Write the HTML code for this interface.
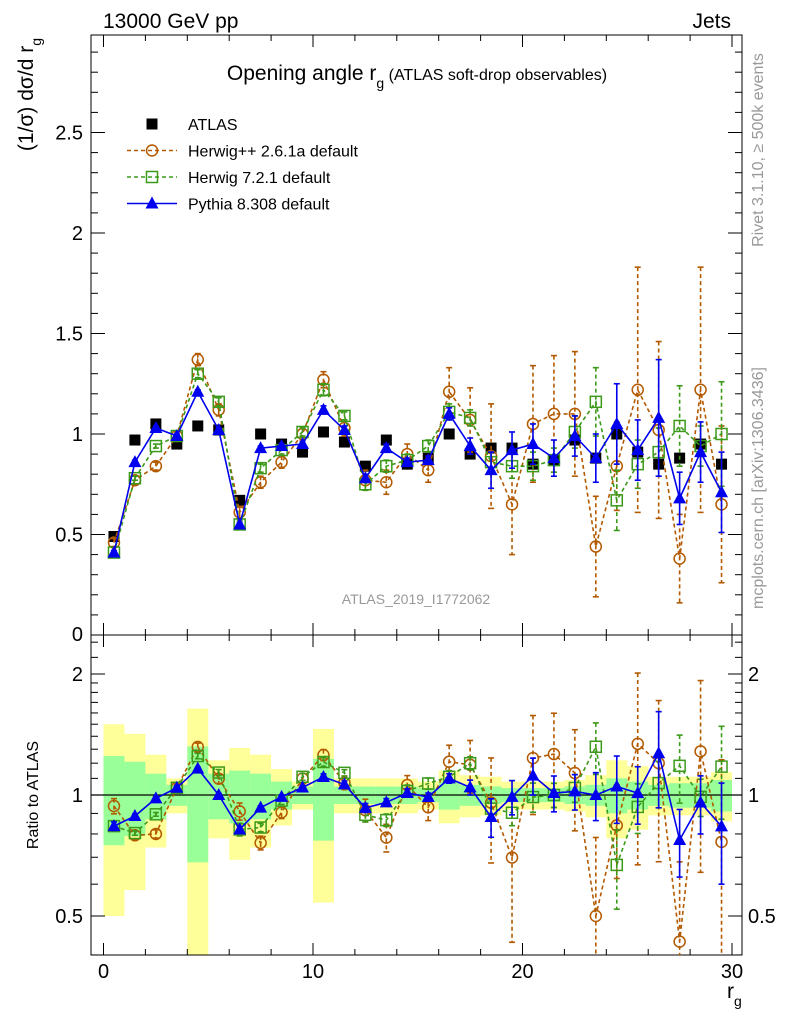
<!DOCTYPE html>
<html><head><meta charset="utf-8"><style>
html,body{margin:0;background:#fff;overflow:hidden;width:786px;height:1024px;}
svg{display:block;font-family:"Liberation Sans",sans-serif;}
</style></head><body>
<svg id="c" width="786" height="1024" viewBox="0 0 786 1024"></svg>
<script>
const bins=[0.5,1.5,2.5,3.5,4.5,5.5,6.5,7.5,8.5,9.5,10.5,11.5,12.5,13.5,14.5,15.5,16.5,17.5,18.5,19.5,20.5,21.5,22.5,23.5,24.5,25.5,26.5,27.5,28.5,29.5];
const atlas=[0.49,0.97,1.05,0.95,1.04,1.02,0.67,1.00,0.95,0.91,1.01,0.96,0.84,0.97,0.85,0.88,1.00,0.90,0.93,0.93,0.85,0.87,0.97,0.88,1.00,0.91,0.85,0.88,0.95,0.85];
const herwigpp=[0.46,0.77,0.84,0.99,1.37,1.12,0.61,0.76,0.86,1.00,1.27,1.03,0.77,0.76,0.90,0.82,1.21,1.07,0.89,0.65,1.05,1.10,1.10,0.44,0.84,1.22,1.02,0.38,1.22,0.65];
const herwigppErr=[0.02,0.02,0.02,0.02,0.03,0.03,0.03,0.03,0.03,0.03,0.04,0.04,0.05,0.06,0.05,0.06,0.12,0.16,0.26,0.25,0.29,0.29,0.31,0.25,0.22,0.61,0.44,0.22,0.61,0.39];
const herwig7=[0.41,0.78,0.94,0.99,1.30,1.16,0.55,0.83,0.92,1.01,1.22,1.09,0.75,0.84,0.87,0.94,1.11,1.08,0.86,0.84,0.84,0.87,1.01,1.16,0.67,0.85,0.91,1.04,0.94,1.00];
const herwig7Err=[0.01,0.01,0.01,0.01,0.02,0.02,0.02,0.02,0.02,0.02,0.03,0.02,0.03,0.03,0.03,0.03,0.04,0.04,0.05,0.06,0.07,0.06,0.08,0.17,0.15,0.12,0.12,0.2,0.1,0.26];
const pythia=[0.41,0.86,1.03,0.99,1.21,1.02,0.55,0.93,0.94,0.95,1.12,1.02,0.78,0.93,0.86,0.87,1.10,0.94,0.82,0.92,0.95,0.88,0.99,0.88,1.05,0.92,1.08,0.68,0.91,0.71];
const pythiaErr=[0.01,0.01,0.01,0.01,0.01,0.01,0.01,0.01,0.01,0.01,0.02,0.02,0.02,0.02,0.02,0.02,0.03,0.04,0.09,0.09,0.1,0.09,0.1,0.12,0.2,0.15,0.29,0.13,0.15,0.2];
const totalRelErr=[0.50,0.42,0.26,0.10,0.64,0.22,0.31,0.26,0.16,0.08,0.46,0.10,0.10,0.10,0.10,0.08,0.15,0.12,0.11,0.08,0.08,0.08,0.09,0.12,0.22,0.18,0.11,0.11,0.11,0.14];
const statRelErr=[0.25,0.21,0.13,0.06,0.32,0.13,0.15,0.13,0.08,0.05,0.23,0.05,0.05,0.05,0.05,0.04,0.08,0.06,0.05,0.04,0.04,0.04,0.05,0.06,0.10,0.08,0.06,0.07,0.07,0.09];
const mainTicks=[0.5,1,1.5,2,2.5];
const ratioTicks=[0.5,1,2];
const xTicks=[0,10,20,30];

const NS="http://www.w3.org/2000/svg";
const svg=document.getElementById('c');
const L=91,R=742,T=35,M=635,B=955;
const X=v=>103.5+v*20.95;
const Y=v=>635-v*201;
const RY=v=>795-Math.log2(v)*121;
function el(tag,attrs,parent){const e=document.createElementNS(NS,tag);for(const k in attrs)e.setAttribute(k,attrs[k]);(parent||svg).appendChild(e);return e;}
function txt(s,attrs,parent){const e=el('text',attrs,parent);e.textContent=s;return e;}

const defs=el('defs',{});
const cp1=el('clipPath',{id:'cm'},defs);el('rect',{x:L,y:T,width:R-L,height:M-T},cp1);
const cp2=el('clipPath',{id:'cr'},defs);el('rect',{x:L,y:M,width:R-L,height:B-M},cp2);

const bands=el('g',{'clip-path':'url(#cr)'});


bins.forEach((b,i)=>{
  const y1=el('rect',{x:X(b-0.5),width:X(1)-X(0),y:RY(1+totalRelErr[i]),height:RY(Math.max(1-totalRelErr[i],0.3))-RY(1+totalRelErr[i]),fill:'#ffff99'},bands);
  
  
});
bins.forEach((b,i)=>{
  const g1=el('rect',{x:X(b-0.5),width:X(1)-X(0),y:RY(1+statRelErr[i]),height:RY(1-statRelErr[i])-RY(1+statRelErr[i]),fill:'#99ff99'},bands);
  
  
});
el('line',{x1:L,x2:R,y1:RY(1),y2:RY(1),stroke:'#000','stroke-width':1.2},bands);

const f1=el('rect',{x:L,y:T,width:R-L,height:M-T,fill:'none',stroke:'#000','stroke-width':1});

const f2=el('rect',{x:L,y:M,width:R-L,height:B-M,fill:'none',stroke:'#000','stroke-width':1});


const tk=el('g',{stroke:'#000','stroke-width':1});
for(let v=0;v<=2.95;v+=0.1){const y=Y(v);const maj=Math.abs(v*2-Math.round(v*2))<1e-6;const l=maj?14:7;
  el('line',{x1:L,x2:L+l,y1:y,y2:y},tk);el('line',{x1:R,x2:R-l,y1:y,y2:y},tk);}
const rminor=[0.4,0.5,0.6,0.7,0.8,0.9,1,1.1,1.2,1.3,1.4,1.5,1.6,1.7,1.8,1.9,2,2.2,2.4];
rminor.forEach(v=>{const y=RY(v);const maj=ratioTicks.includes(v);const l=maj?14:7;
  el('line',{x1:L,x2:L+l,y1:y,y2:y},tk);el('line',{x1:R,x2:R-l,y1:y,y2:y},tk);});
for(let v=0;v<=30;v+=2){const x=X(v);const maj=v%10===0;const l=maj?12:6;
  el('line',{x1:x,x2:x,y1:B,y2:B-l},tk);el('line',{x1:x,x2:x,y1:M,y2:M+l},tk);
  el('line',{x1:x,x2:x,y1:M,y2:M-l},tk);el('line',{x1:x,x2:x,y1:T,y2:T+l},tk);}

mainTicks.forEach(v=>{const t=txt(String(v),{x:L-8,y:Y(v)+7,'text-anchor':'end','font-size':20});
  });
txt('0',{x:L-8,y:641,'text-anchor':'end','font-size':20});
ratioTicks.forEach(v=>{
  const t=txt(String(v),{x:L-8,y:RY(v)+7,'text-anchor':'end','font-size':20});
  
  const t2=txt(String(v),{x:R+6,y:RY(v)+7,'font-size':20});
  });
xTicks.forEach(v=>{const t=txt(String(v),{x:X(v),y:978,'text-anchor':'middle','font-size':20});
  });

function series(vals,errs,color,dash,marker,ratio,name){
  const g=el('g',{'clip-path':ratio?'url(#cr)':'url(#cm)'});
  
  
  const yf=ratio?(i,v)=>RY(v/atlas[i]):(i,v)=>Y(v);
  const pts=bins.map((b,i)=>X(b)+','+yf(i,vals[i])).join(' ');
  el('polyline',{points:pts,fill:'none',stroke:color,'stroke-width':1.6,'stroke-dasharray':dash||'none'},g);
  bins.forEach((b,i)=>{
    const x=X(b),y1=yf(i,vals[i]+errs[i]),y2=yf(i,Math.max(vals[i]-errs[i],0.01));
    el('line',{x1:x,x2:x,y1:y1,y2:y2,stroke:color,'stroke-width':1.6,'stroke-dasharray':dash||'none'},g);
    el('line',{x1:x-3,x2:x+3,y1:y1,y2:y1,stroke:color,'stroke-width':1.6},g);
    el('line',{x1:x-3,x2:x+3,y1:y2,y2:y2,stroke:color,'stroke-width':1.6},g);
  });
  bins.forEach((b,i)=>{const m=drawMarker(marker,X(b),yf(i,vals[i]),color,g);
    });
}
function drawMarker(type,x,y,color,g){
  if(type==='circle')return el('circle',{cx:x,cy:y,r:5.5,fill:'none',stroke:color,'stroke-width':1.5},g);
  if(type==='osq')return el('rect',{x:x-5.5,y:y-5.5,width:11,height:11,fill:'none',stroke:color,'stroke-width':1.5},g);
  if(type==='tri')return el('polygon',{points:`${x},${y-7} ${x-6.5},${y+5} ${x+6.5},${y+5}`,fill:color},g);
  return el('rect',{x:x-5.5,y:y-5.5,width:11,height:11,fill:color},g);
}
const ga=el('g',{'clip-path':'url(#cm)'});

bins.forEach((b,i)=>{const m=drawMarker('sq',X(b),Y(atlas[i]),'#000',ga);
  });
const HC='#b35a00',GC='#3c9a1a',PC='#0000ee';
[false,true].forEach(r=>{
  series(herwigpp,herwigppErr,HC,'4,3','circle',r,'herwigpp-series');
  series(herwig7,herwig7Err,GC,'4,3','osq',r,'herwig7-series');
  series(pythia,pythiaErr,PC,null,'tri',r,'pythia-series');
});

const lg=el('g',{});
const entries=[['ATLAS','#000',null,'sq'],['Herwig++ 2.6.1a default',HC,'4,3','circle'],['Herwig 7.2.1 default',GC,'4,3','osq'],['Pythia 8.308 default',PC,null,'tri']];
entries.forEach((e,i)=>{const y=124+i*26.5;
  const eg=el('g',{},lg);
  if(i>0)el('line',{x1:127,x2:177,y1:y,y2:y,stroke:e[1],'stroke-width':1.6,'stroke-dasharray':e[2]||'none'},eg);
  drawMarker(e[3],152,y,e[1],eg);
  txt(e[0],{x:188,y:y+6,'font-size':16},eg);});

let t;
t=txt('13000 GeV pp',{x:103,y:28,'font-size':21});
t=txt('Jets',{x:731,y:28,'font-size':21,'text-anchor':'end'});
t=el('text',{x:417,y:80,'font-size':21,'text-anchor':'middle'});
t.innerHTML='Opening angle r<tspan font-size="14" dy="8">g</tspan><tspan font-size="16" dy="-8"> (ATLAS soft-drop observables)</tspan>';
t=el('text',{transform:'translate(33,38) rotate(-90)','font-size':21,'text-anchor':'end'});
t.innerHTML='(1/σ) dσ/d r<tspan font-size="14" dy="8">g</tspan>';
t=txt('Ratio to ATLAS',{transform:'translate(38,795) rotate(-90)','font-size':16,'text-anchor':'middle'});
t=el('text',{x:727,y:998,'font-size':21});
t.innerHTML='r<tspan font-size="14" dy="8">g</tspan>';
t=txt('ATLAS_2019_I1772062',{x:416,y:604,'font-size':14,'text-anchor':'middle',fill:'#999'});
t=txt('Rivet 3.1.10, ≥ 500k events',{transform:'translate(763,150) rotate(-90)','font-size':16,'text-anchor':'middle',fill:'#999'});
t=txt('mcplots.cern.ch [arXiv:1306.3436]',{transform:'translate(763,488) rotate(-90)','font-size':16,'text-anchor':'middle',fill:'#999'});
</script>
</body></html>
